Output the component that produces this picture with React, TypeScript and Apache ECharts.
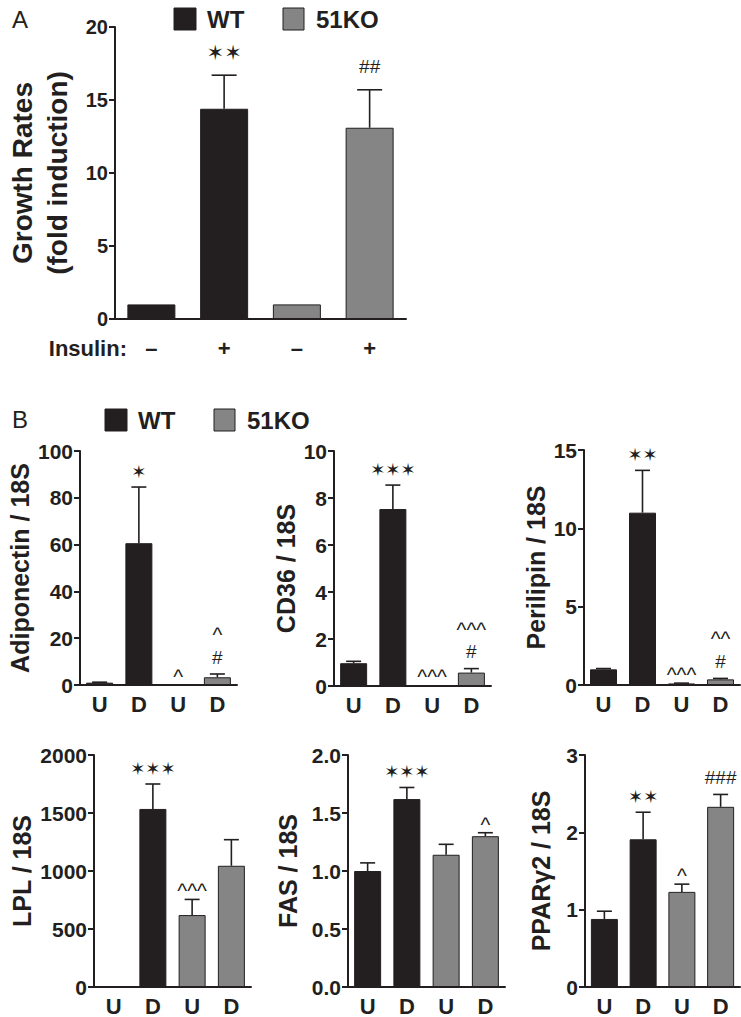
import React, { useEffect, useRef } from "react";
import * as echarts from "echarts";

// ---------- data ----------
const insulinLabels = ["–", "+", "–", "+"];
const growthMean = [1.0, 14.4, 1.0, 13.1];
const growthSem = [0, 2.3, 0, 2.6];
const growthMarks = ["", "✶✶", "", "##"];

const udLabels = ["U", "D", "U", "D"];

const adipoMean = [1.0, 60.6, 0.1, 3.3];
const adipoSem = [0.2, 24.0, 0, 1.4];
const adipoMarks = ["", "✶", "^", "^\n#"];

const cd36Mean = [0.97, 7.53, 0.03, 0.57];
const cd36Sem = [0.08, 1.02, 0, 0.17];
const cd36Marks = ["", "✶✶✶", "^^^", "^^^\n#"];

const perilipinMean = [1.0, 11.0, 0.1, 0.36];
const perilipinSem = [0.05, 2.7, 0.02, 0.06];
const perilipinMarks = ["", "✶✶", "^^^", "^^\n#"];

const lplMean = [0, 1535, 620, 1045];
const lplSem = [0, 215, 135, 225];
const lplMarks = ["", "✶✶✶", "^^^", ""];

const fasMean = [1.0, 1.62, 1.14, 1.3];
const fasSem = [0.07, 0.1, 0.09, 0.03];
const fasMarks = ["", "✶✶✶", "", "^"];

const pparMean = [0.88, 1.91, 1.23, 2.33];
const pparSem = [0.1, 0.35, 0.1, 0.16];
const pparMarks = ["", "✶✶", "^", "###"];

const groupNames = ["WT", "51KO"];

// ---------- style ----------
const FONT = "'Liberation Sans', Arial, Helvetica, sans-serif";
const STAR_FONT = "'DejaVu Sans', sans-serif";
const INK = "#231f20";
const KO = "#858585";

type Panel = {
  rect: { left: number; top: number; width: number; height: number };
  cats: string[];
  mean: number[];
  sem: number[];
  marks: string[];
  max: number;
  interval: number;
  name: string;
  nameGap: number;
  nameSize: number;
  nameLineHeight?: number;
  barWidth: number;
  cap: number;
  catMargin: number;
  markExtra: number;
  starSize: number;
  decimals?: number;
};

const panels: Panel[] = [
  {
    rect: { left: 115, top: 27, width: 291, height: 292 },
    cats: insulinLabels, mean: growthMean, sem: growthSem, marks: growthMarks,
    max: 20, interval: 5, name: "Growth Rates\n(fold induction)", nameGap: 40, nameSize: 28, nameLineHeight: 35,
    barWidth: 48, cap: 25, catMargin: 18, markExtra: 6, starSize: 21,
  },
  {
    rect: { left: 80, top: 451, width: 157, height: 234 },
    cats: udLabels, mean: adipoMean, sem: adipoSem, marks: adipoMarks,
    max: 100, interval: 20, name: "Adiponectin / 18S", nameGap: 40, nameSize: 25,
    barWidth: 27, cap: 15, catMargin: 8, markExtra: 0, starSize: 18,
  },
  {
    rect: { left: 334, top: 451, width: 157, height: 235 },
    cats: udLabels, mean: cd36Mean, sem: cd36Sem, marks: cd36Marks,
    max: 10, interval: 2, name: "CD36 / 18S", nameGap: 34, nameSize: 25,
    barWidth: 27, cap: 15, catMargin: 8, markExtra: 0, starSize: 18,
  },
  {
    rect: { left: 584, top: 450, width: 156, height: 235 },
    cats: udLabels, mean: perilipinMean, sem: perilipinSem, marks: perilipinMarks,
    max: 15, interval: 5, name: "Perilipin / 18S", nameGap: 34, nameSize: 25,
    barWidth: 27, cap: 15, catMargin: 8, markExtra: 0, starSize: 18,
  },
  {
    rect: { left: 94, top: 755, width: 157, height: 235 },
    cats: udLabels, mean: lplMean, sem: lplSem, marks: lplMarks,
    max: 2000, interval: 500, name: "LPL / 18S", nameGap: 52, nameSize: 25,
    barWidth: 27, cap: 15, catMargin: 8, markExtra: 0, starSize: 18,
  },
  {
    rect: { left: 348, top: 755, width: 157, height: 235 },
    cats: udLabels, mean: fasMean, sem: fasSem, marks: fasMarks,
    max: 2, interval: 0.5, name: "FAS / 18S", nameGap: 46, nameSize: 25, decimals: 1,
    barWidth: 27, cap: 15, catMargin: 8, markExtra: 0, starSize: 18,
  },
  {
    rect: { left: 585, top: 755, width: 155, height: 234 },
    cats: udLabels, mean: pparMean, sem: pparSem, marks: pparMarks,
    max: 3, interval: 1, name: "PPARγ2 / 18S", nameGap: 30, nameSize: 25,
    barWidth: 27, cap: 15, catMargin: 8, markExtra: 0, starSize: 18,
  },
];

function lineKind(s: string) {
  if (s.indexOf("✶") >= 0) return "star";
  if (s.indexOf("^") >= 0) return "caret";
  return "hash";
}
const KIND_GAP: Record<string, number> = { star: 6, caret: -4.5, hash: 7.5 };

function buildOption() {
  const grid: any[] = [];
  const xAxis: any[] = [];
  const yAxis: any[] = [];
  const series: any[] = [];

  panels.forEach((p, i) => {
    grid.push({ ...p.rect, containLabel: false });
    xAxis.push({
      type: "category",
      gridIndex: i,
      data: p.cats,
      axisLine: { lineStyle: { color: INK, width: 2 } },
      axisTick: { alignWithLabel: true, length: 8, lineStyle: { color: INK, width: 2 } },
      axisLabel: {
        color: INK, fontFamily: FONT, fontWeight: "bold", fontSize: 22, margin: p.catMargin,
      },
    });
    yAxis.push({
      type: "value",
      gridIndex: i,
      min: 0,
      max: p.max,
      interval: p.interval,
      splitLine: { show: false },
      axisLine: { show: true, lineStyle: { color: INK, width: 2 } },
      axisTick: { show: true, length: 6, lineStyle: { color: INK, width: 2 } },
      axisLabel: {
        color: INK, fontFamily: FONT, fontWeight: "bold", fontSize: i === 0 ? 20 : 21, margin: 7,
        formatter: (v: number) => (p.decimals ? v.toFixed(p.decimals) : String(v)),
      },
      name: p.name,
      nameLocation: "middle",
      nameRotate: 90,
      nameGap: p.nameGap,
      nameTextStyle: {
        color: INK, fontFamily: FONT, fontWeight: "bold", fontSize: p.nameSize,
        lineHeight: p.nameLineHeight || 28,
      },
    });

    series.push({
      type: "bar",
      xAxisIndex: i,
      yAxisIndex: i,
      barWidth: p.barWidth,
      silent: true,
      data: p.mean.map((v, j) => ({
        value: v,
        itemStyle: { color: j < 2 ? INK : KO, borderColor: INK, borderWidth: v > 0 ? 1 : 0 },
      })),
    });

    series.push({
      type: "custom",
      xAxisIndex: i,
      yAxisIndex: i,
      silent: true,
      data: p.mean.map((v, j) => [j, v, v + p.sem[j]]),
      renderItem: (params: any, api: any) => {
        const lo = api.value(1);
        const hi = api.value(2);
        if (!(hi > lo)) return { type: "group", children: [] };
        const a = api.coord([api.value(0), lo]);
        const b = api.coord([api.value(0), hi]);
        return {
          type: "group",
          children: [
            { type: "line", shape: { x1: a[0], y1: a[1], x2: b[0], y2: b[1] }, style: { stroke: INK, lineWidth: 1.6 } },
            { type: "line", shape: { x1: b[0] - p.cap / 2, y1: b[1], x2: b[0] + p.cap / 2, y2: b[1] }, style: { stroke: INK, lineWidth: 1.6 } },
          ],
        };
      },
    });

    series.push({
      type: "custom",
      xAxisIndex: i,
      yAxisIndex: i,
      silent: true,
      data: p.mean.map((v, j) => [j, v + p.sem[j]]),
      renderItem: (params: any, api: any) => {
        const text = p.marks[params.dataIndex];
        if (!text) return { type: "group", children: [] };
        const c = api.coord([api.value(0), api.value(1)]);
        const lines = text.split("\n");
        const bottomKind = lineKind(lines[lines.length - 1]);
        const richText = lines.map((ln) => `{${lineKind(ln)}|${ln}}`).join("\n");
        return {
          type: "text",
          x: c[0],
          y: c[1] - KIND_GAP[bottomKind] - p.markExtra,
          style: {
            text: richText,
            fill: INK,
            align: "center",
            verticalAlign: "bottom",
            rich: {
              star: { fontFamily: STAR_FONT, fontSize: p.starSize, lineHeight: 20, fill: INK },
              caret: { fontFamily: FONT, fontSize: 21, lineHeight: 26, fill: INK },
              hash: { fontFamily: FONT, fontSize: 19, lineHeight: 19, fill: INK },
            },
          },
        };
      },
    });
  });

  const legend = (x: number, y: number) => [
    { type: "rect", shape: { x, y, width: 22, height: 22 }, style: { fill: INK, stroke: INK, lineWidth: 1 } },
    { type: "text", x: x + 33, y: y + 11, style: { text: groupNames[0], fill: INK, fontFamily: FONT, fontWeight: "bold", fontSize: 24, verticalAlign: "middle" } },
    { type: "rect", shape: { x: x + 109, y, width: 21, height: 22 }, style: { fill: KO, stroke: INK, lineWidth: 1 } },
    { type: "text", x: x + 142, y: y + 11, style: { text: groupNames[1], fill: INK, fontFamily: FONT, fontWeight: "bold", fontSize: 24, verticalAlign: "middle" } },
  ];

  const graphic: any[] = [
    { type: "text", x: 12, y: 19, style: { text: "A", fill: INK, fontFamily: FONT, fontSize: 24, verticalAlign: "middle" } },
    { type: "text", x: 12, y: 419, style: { text: "B", fill: INK, fontFamily: FONT, fontSize: 24, verticalAlign: "middle" } },
    { type: "text", x: 127, y: 348, style: { text: "Insulin:", fill: INK, fontFamily: FONT, fontWeight: "bold", fontSize: 22, align: "right", verticalAlign: "middle" } },
    ...legend(174, 8),
    ...legend(105, 409),
  ];

  return { animation: false, backgroundColor: "#ffffff", grid, xAxis, yAxis, series, graphic };
}

export default function App() {
  const ref = useRef<HTMLDivElement>(null);
  useEffect(() => {
    if (!ref.current) return;
    const chart = echarts.init(ref.current, undefined, { renderer: "svg" });
    chart.setOption(buildOption() as any);
    return () => chart.dispose();
  }, []);
  return (
    <div
      ref={ref}
      style={{ position: "absolute", left: 0, top: 0, width: 741, height: 1017, background: "#fff" }}
    />
  );
}
